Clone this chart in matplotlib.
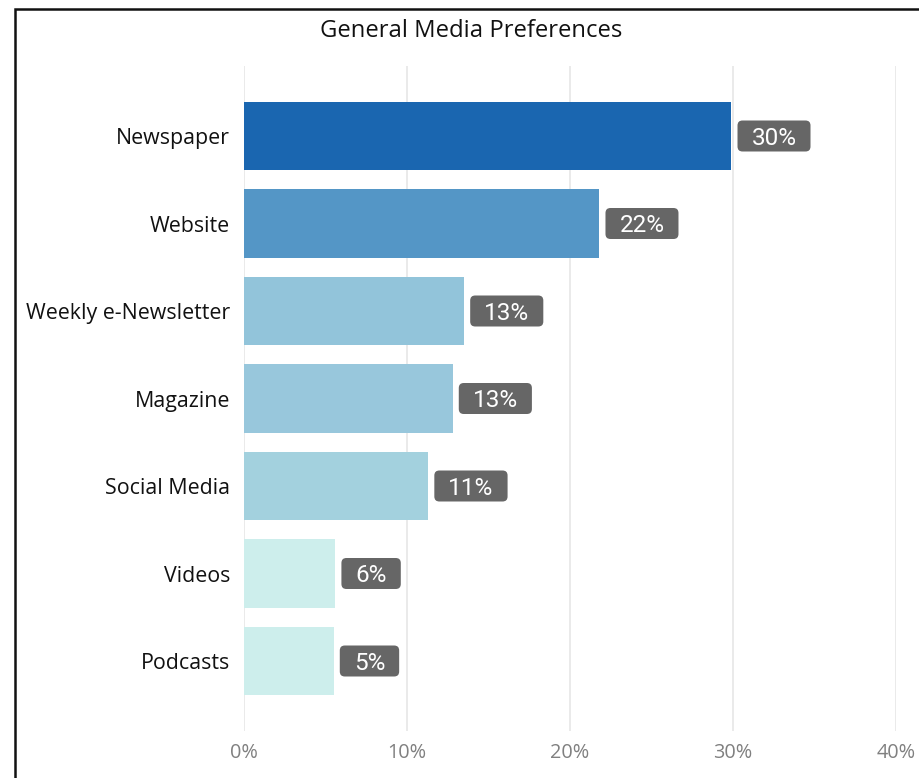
import matplotlib
matplotlib.use("Agg")
import matplotlib.pyplot as plt
from matplotlib.patches import Rectangle, FancyBboxPatch
from matplotlib.transforms import IdentityTransform

categories = ["Newspaper", "Website", "Weekly e-Newsletter", "Magazine",
              "Social Media", "Videos", "Podcasts"]
values = [29.9, 21.8, 13.5, 12.8, 11.3, 5.6, 5.5]
labels = ["30%", "22%", "13%", "13%", "11%", "6%", "5%"]
colors = ["#1a66b0", "#5496c6", "#92c4da", "#98c7dc", "#a3d1de",
          "#cdeeec", "#cdeeec"]
xticks = [0, 10, 20, 30, 40]

plt.rcParams["font.family"] = ["Open Sans", "DejaVu Sans"]

fig = plt.figure(figsize=(9.19, 7.78), dpi=100)
ax = fig.add_axes([244 / 919, 47 / 778, 652 / 919, 665 / 778])

ypos = list(range(len(categories)))
ax.barh(ypos, values, height=0.78, color=colors, zorder=2)

texts = []
for y, v, lab in zip(ypos, values, labels):
    t = ax.annotate(lab, (v, y), xytext=(14.5, -1.5), textcoords="offset points",
                    ha="left", va="center", color="white", fontsize=17.5,
                    family=["Roboto", "DejaVu Sans"], zorder=5)
    texts.append(t)

ax.set_xlim(0, 40)
ax.set_ylim(6.8, -0.8)
ax.set_yticks(ypos)
ax.set_yticklabels(categories, fontsize=15.4, color="#111111")
ax.set_xticks(xticks)
ax.set_xticklabels([f"{t}%" for t in xticks], fontsize=14.3, color="#808080")
ax.tick_params(length=0, pad=8.5)
ax.tick_params(axis="y", pad=10)
ax.grid(axis="x", color="#e6e6e6", linewidth=1.2, zorder=0)
for s in ax.spines.values():
    s.set_visible(False)

fig.text(471 / 919, 1 - 31 / 778, "General Media Preferences", ha="center",
         va="center", fontsize=17.2, color="#111111")

# outer frame, cut off at right and bottom like the original
fig.add_artist(Rectangle((15 / 919, -0.1), 1.2, 1 - 9 / 778 + 0.1,
                         transform=fig.transFigure, fill=False,
                         ec="#111111", lw=1.8))

# grey rounded boxes behind the value labels (pixel sized)
fig.canvas.draw()
renderer = fig.canvas.get_renderer()
for t, y in zip(texts, ypos):
    bb = t.get_window_extent(renderer)
    yc = ax.transData.transform((0, y))[1]
    box = FancyBboxPatch((bb.x0 - 14, yc - 15.5), bb.width + 28, 31,
                         boxstyle="round,pad=0,rounding_size=5",
                         fc="#666666", ec="none", transform=IdentityTransform(),
                         zorder=4, clip_on=False)
    ax.add_artist(box)

fig.savefig("out.png", dpi=100)
